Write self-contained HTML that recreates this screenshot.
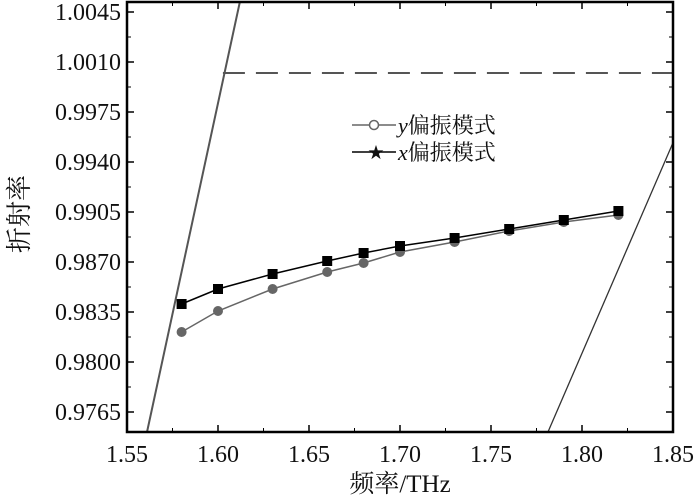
<!DOCTYPE html>
<html><head><meta charset="utf-8"><style>
body{margin:0;background:#fff}
text{font-family:"Liberation Serif","Noto Serif CJK SC",serif;fill:#111}
</style></head><body>
<svg id="c" width="700" height="497" xmlns="http://www.w3.org/2000/svg"></svg>
<script>
const freqs=[1.58,1.60,1.63,1.66,1.68,1.70,1.73,1.76,1.79,1.82];
const xMode=[0.98406,0.98511,0.98616,0.98707,0.98763,0.98812,0.98868,0.98931,0.98994,0.99057];
const yMode=[0.9821,0.98357,0.98511,0.9863,0.98693,0.9877,0.9884,0.98917,0.9898,0.99029];
const xTicks=[1.55,1.60,1.65,1.70,1.75,1.80,1.85];
const yTicks=[0.9765,0.9800,0.9835,0.9870,0.9905,0.9940,0.9975,1.0010,1.0045];
const dashLevel=1.00023;
const lightLineL=[[1.561,0.9751],[1.612,1.0052]];
const lightLineR=[[1.7813,0.9751],[1.85,0.99535]];
const NS="http://www.w3.org/2000/svg";
const svg=document.getElementById('c');
const L=127,R=673,T=2,B=432;
const sx=v=>L+(v-1.55)/0.30*(R-L);
const sy=v=>412-(v-0.9765)/0.0035*50;
function el(t,a,p){const e=document.createElementNS(NS,t);for(const k in a)e.setAttribute(k,a[k]);(p||svg).appendChild(e);return e;}
const clip=el('clipPath',{id:'pc'});el('rect',{x:L,y:T,width:R-L,height:B-T},clip);
const g=el('g',{'clip-path':'url(#pc)'});
xTicks.forEach((v,i)=>{const x=sx(v);
 const t=el('line',{x1:x,y1:B,x2:x,y2:B-7,stroke:'#000','stroke-width':1.5});
 
 el('line',{x1:x,y1:T,x2:x,y2:T+7,stroke:'#000','stroke-width':1.5});
 if(i<xTicks.length-1){const m=sx(v+0.025);el('line',{x1:m,y1:B,x2:m,y2:B-4,stroke:'#000'});el('line',{x1:m,y1:T,x2:m,y2:T+4,stroke:'#000'});}
 const tx=el('text',{x:x,y:B+30,'text-anchor':'middle','font-size':24});tx.textContent=v.toFixed(2);
 
});
yTicks.forEach((v,i)=>{const y=sy(v);
 el('line',{x1:L,y1:y,x2:L+7,y2:y,stroke:'#000','stroke-width':1.5});
 el('line',{x1:R,y1:y,x2:R-7,y2:y,stroke:'#000','stroke-width':1.5});
 const m=sy(v+0.00175);if(m>T){el('line',{x1:L,y1:m,x2:L+4,y2:m,stroke:'#000'});el('line',{x1:R,y1:m,x2:R-4,y2:m,stroke:'#000'});}
 const ty=el('text',{x:L-6,y:y+8,'text-anchor':'end','font-size':24});ty.textContent=v.toFixed(4);
 
});
[lightLineL,lightLineR].forEach((ln,i)=>{const e=el('line',{x1:sx(ln[0][0]),y1:sy(ln[0][1]),x2:sx(ln[1][0]),y2:sy(ln[1][1]),stroke:i?'#333':'#555','stroke-width':i?1.3:2},g);
 });
const d=el('line',{x1:sx(1.6027),y1:sy(dashLevel),x2:R,y2:sy(dashLevel),stroke:'#555','stroke-width':2,'stroke-dasharray':'22,11'},g);

function series(vals,col,mk,name){
 const p=el('polyline',{points:freqs.map((f,i)=>sx(f)+','+sy(vals[i])).join(' '),fill:'none',stroke:col,'stroke-width':1.5});
 
 freqs.forEach((f,i)=>{let m;
  if(mk==='s')m=el('rect',{x:sx(f)-5,y:sy(vals[i])-5,width:10,height:10,fill:col});
  else m=el('circle',{cx:sx(f),cy:sy(vals[i]),r:5,fill:col});
  });
}
series(yMode,'#666','c','y-mode');
series(xMode,'#000','s','x-mode');
el('rect',{x:L,y:T,width:R-L,height:B-T,fill:'none',stroke:'#000','stroke-width':2.5});
const lg=el('g',{});
el('line',{x1:352,y1:125,x2:396,y2:125,stroke:'#666','stroke-width':1.5},lg);
el('circle',{cx:374,cy:125,r:4.5,fill:'#fff',stroke:'#666','stroke-width':1.5},lg);
el('line',{x1:352,y1:152,x2:396,y2:152,stroke:'#000','stroke-width':1.5},lg);
el('text',{x:368,y:158,'font-size':16},lg).textContent='★';
const t1=el('text',{x:398,y:133,'font-size':22},lg);t1.innerHTML='<tspan font-style="italic">y</tspan>偏振模式';
const t2=el('text',{x:398,y:160,'font-size':22},lg);t2.innerHTML='<tspan font-style="italic">x</tspan>偏振模式';
const xl=el('text',{x:400,y:492,'text-anchor':'middle','font-size':25});xl.textContent='频率/THz';

const yl=el('text',{x:0,y:0,'text-anchor':'middle','font-size':26,transform:'translate(28,214) rotate(-90)'});yl.textContent='折射率';

</script>
</body></html>
